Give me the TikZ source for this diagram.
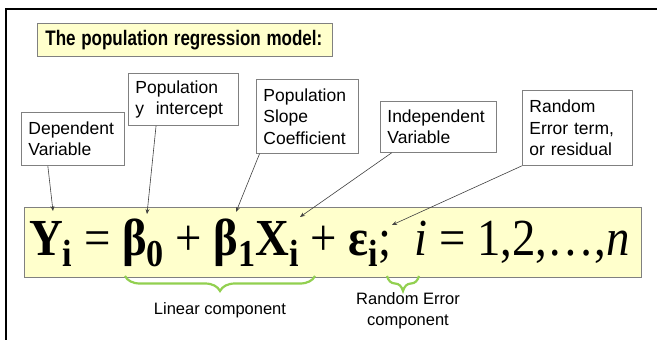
\documentclass[tikz,border=0pt]{standalone}
\usepackage{graphicx}
\usepackage{fontspec}
\setmainfont{Liberation Sans}
\newfontfamily\eqfont{Liberation Serif}
\usetikzlibrary{arrows.meta,decorations.pathreplacing}
\definecolor{paleyellow}{RGB}{255,255,204}
\definecolor{boxgray}{RGB}{128,128,128}
\definecolor{bracegreen}{RGB}{146,208,80}
\newcommand{\eqsub}[1]{\raisebox{-11pt}{\fontsize{38}{38}\selectfont #1}}

\begin{document}
\begin{tikzpicture}[x=1pt, y=-1pt,
  callout/.style={rectangle, draw=boxgray, line width=0.8pt, fill=white, anchor=north west, align=left, inner xsep=7pt, inner ysep=3pt, font=\fontsize{17.5}{21.5}\selectfont},
  yellowbox/.style={rectangle, draw=boxgray, line width=0.8pt, fill=paleyellow, anchor=north west, inner sep=0pt},
  arrow/.style={-{Stealth[length=5pt,width=4pt]}, line width=0.6pt, draw=black!75},
  brace/.style={decorate, decoration={brace, mirror, amplitude=15pt}, draw=bracegreen, line width=2.2pt},
  undertext/.style={align=center, font=\fontsize{16.5}{21}\selectfont}
]
\useasboundingbox (0,0) rectangle (657,340);
% slide frame
\draw[line width=2.5pt] (6,340) -- (6,9) -- (657,9);

\node[yellowbox, text width=279pt, inner xsep=8pt, minimum height=33pt, align=left, font=\bfseries\fontsize{21}{21}\selectfont] (title) at (37,23) {\scalebox{0.81}[1]{The population regression model:}};

% equation
\node[yellowbox, minimum width=617pt, minimum height=70pt] (eqbox) at (24,207) {};
\node[anchor=base west, inner sep=0pt, font=\eqfont\fontsize{52}{52}\selectfont] (eq) at (29,255)
  {\scalebox{0.9}[1]{{\bfseries Y\eqsub{i}} = {\bfseries β\eqsub{0}} + {\bfseries β\eqsub{1}X\eqsub{i}} + {\bfseries ε\eqsub{i}};\ \ {\itshape i} = 1,2,…,{\itshape n}}};

% callouts
\node[callout, text width=89pt, minimum height=53pt] (dep) at (21,112) {Dependent\\Variable};
\node[callout, text width=96pt, minimum height=52pt] (icpt) at (128,73) {Population\\y\ \ intercept};
\node[callout, text width=88pt, minimum height=74pt] (slope) at (256,79) {Population\\Slope\\Coefficient};
\node[callout, text width=102pt, minimum height=51pt] (indep) at (380,101) {Independent\\Variable};
\node[callout, text width=96pt, minimum height=75pt] (err) at (522,90) {Random\\Error term,\\or residual};

\coordinate (tY) at (53,211);
\coordinate (tB0) at (147,214);
\coordinate (tB1) at (236,212);
\coordinate (tX) at (300,217);
\coordinate (tE) at (392,225);

\draw[arrow] (dep.-133) -- (tY);
\draw[arrow] (icpt.-136) -- (tB0);
\draw[arrow] (slope.-142) -- (tB1);
\draw[arrow] (indep.-151) -- (tX);
\draw[arrow] (err.south west) -- (tE);

% components
\draw[brace] (125,276) -- (315,276);
\draw[brace] (387,276) -- (419,276);
\node[undertext] (lin) at (220,310) {Linear component};
\node[undertext] (rnd) at (408,311) {Random Error\\component};
\end{tikzpicture}
\end{document}
